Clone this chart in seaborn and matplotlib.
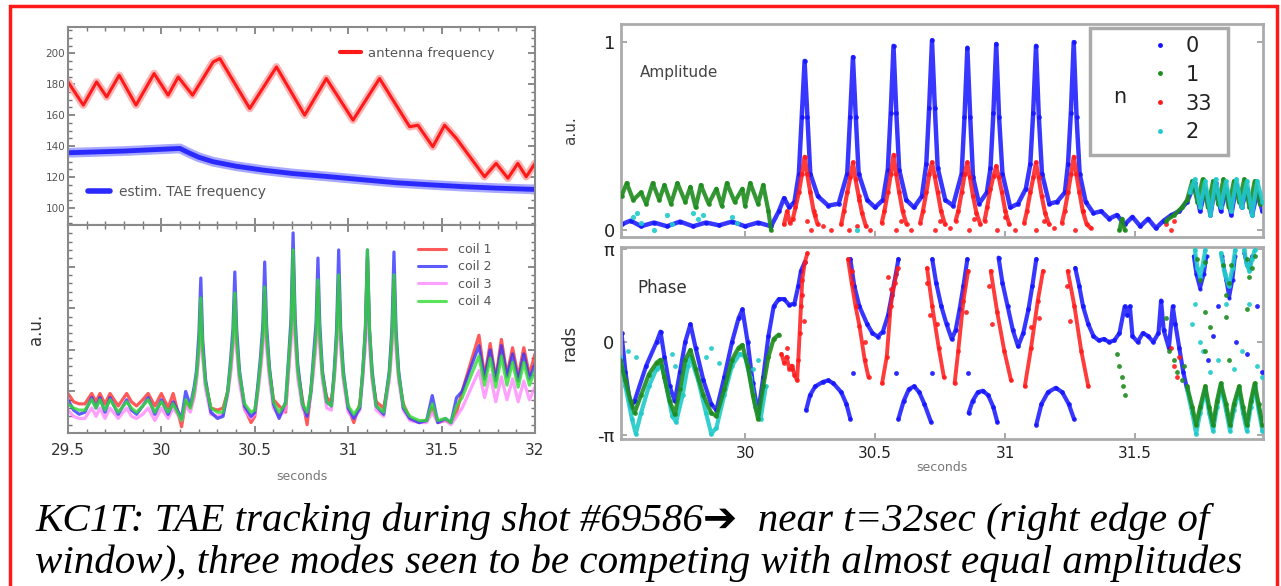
import numpy as np
import pandas as pd
import matplotlib
matplotlib.use("Agg")
import matplotlib.pyplot as plt
import seaborn as sns
from matplotlib.patches import Rectangle
from matplotlib.lines import Line2D
from matplotlib.ticker import MultipleLocator

nan = float("nan")

# ---------------- data: top-left (frequencies) ----------------
ant_t = [29.50, 29.582, 29.653, 29.707, 29.774, 29.864, 29.961, 30.036, 30.09, 30.167, 30.277, 30.313,
         30.473, 30.616, 30.767, 30.883, 31.026, 31.168, 31.329, 31.373, 31.453, 31.516, 31.579, 31.73,
         31.792, 31.855, 31.908, 31.953, 32.0]
ant_f = [181.5, 166.5, 181.5, 171.8, 185.8, 166.5, 186.9, 172.9, 184.7, 172.9, 194.4, 196.6,
         164.3, 191.2, 160.0, 183.7, 156.8, 183.7, 152.5, 153.5, 139.6, 153.5, 145.0, 120.2,
         128.8, 119.2, 128.8, 120.2, 128.8]
tae_t = [29.50, 29.80, 30.099, 30.15, 30.20, 30.277, 30.40, 30.544, 30.70, 30.901, 31.10, 31.258,
         31.45, 31.614, 31.80, 32.0]
tae_f = [135.7, 136.8, 138.5, 135.5, 132.8, 129.9, 127.0, 124.5, 122.3, 120.2, 118.0, 116.3,
         114.9, 113.8, 112.8, 112.0]

# ---------------- data: bottom-left (coil signals) ----------------
coil_t = [29.50, 29.53, 29.56, 29.59, 29.627, 29.65, 29.671, 29.698, 29.725, 29.769,
          29.814, 29.84, 29.867, 29.90, 29.929, 29.965, 30.00, 30.036, 30.063, 30.108,
          30.13, 30.155, 30.175, 30.188, 30.201, 30.211, 30.221, 30.236, 30.265, 30.30,
          30.33, 30.355, 30.37, 30.383, 30.393, 30.403, 30.418, 30.445, 30.48, 30.50,
          30.515, 30.53, 30.543, 30.553, 30.563, 30.578, 30.60, 30.63, 30.665, 30.68,
          30.694, 30.705, 30.716, 30.73, 30.755, 30.78, 30.80, 30.815, 30.828, 30.838,
          30.848, 30.862, 30.885, 30.91, 30.925, 30.938, 30.949, 30.96, 30.974, 31.00,
          31.03, 31.062, 31.078, 31.092, 31.103, 31.114, 31.128, 31.15, 31.19, 31.22,
          31.234, 31.245, 31.256, 31.27, 31.295, 31.33, 31.38, 31.42, 31.45, 31.48,
          31.52, 31.55, 31.58, 31.61, 31.65, 31.70, 31.73, 31.76, 31.79, 31.82,
          31.85, 31.88, 31.91, 31.94, 31.97, 32.00]
coil1 = [0.19, 0.15, 0.14, 0.14, 0.19, 0.15, 0.19, 0.14, 0.19, 0.13,
         0.19, 0.15, 0.13, 0.16, 0.19, 0.13, 0.19, 0.12, 0.19, 0.03,
         0.15, 0.12, 0.18, 0.27, 0.40, 0.62, 0.40, 0.24, 0.12, 0.11,
         0.12, 0.20, 0.30, 0.43, 0.64, 0.43, 0.27, 0.12, 0.05, 0.08,
         0.20, 0.32, 0.45, 0.68, 0.45, 0.30, 0.16, 0.13, 0.10, 0.30,
         0.48, 0.84, 0.48, 0.30, 0.16, 0.04, 0.20, 0.33, 0.46, 0.70,
         0.45, 0.28, 0.17, 0.15, 0.27, 0.45, 0.73, 0.45, 0.27, 0.12,
         0.05, 0.14, 0.28, 0.48, 0.84, 0.48, 0.27, 0.15, 0.12, 0.27,
         0.45, 0.73, 0.45, 0.27, 0.14, 0.07, 0.05, 0.06, 0.12, 0.05,
         0.06, 0.05, 0.10, 0.20, 0.32, 0.47, 0.27, 0.43, 0.26, 0.45,
         0.28, 0.41, 0.27, 0.41, 0.28, 0.38]
coil2 = [0.16, 0.11, 0.09, 0.10, 0.17, 0.12, 0.17, 0.10, 0.17, 0.09,
         0.16, 0.11, 0.09, 0.13, 0.17, 0.09, 0.16, 0.09, 0.15, 0.07,
         0.20, 0.13, 0.22, 0.30, 0.48, 0.745, 0.45, 0.26, 0.10, 0.07,
         0.08, 0.20, 0.35, 0.50, 0.774, 0.50, 0.30, 0.13, 0.08, 0.10,
         0.22, 0.36, 0.52, 0.822, 0.52, 0.32, 0.14, 0.07, 0.15, 0.35,
         0.55, 0.962, 0.55, 0.33, 0.14, 0.08, 0.20, 0.38, 0.53, 0.841,
         0.52, 0.30, 0.15, 0.13, 0.30, 0.50, 0.88, 0.50, 0.30, 0.12,
         0.07, 0.12, 0.30, 0.50, 0.88, 0.50, 0.30, 0.13, 0.09, 0.30,
         0.50, 0.87, 0.50, 0.30, 0.12, 0.07, 0.05, 0.06, 0.18, 0.05,
         0.07, 0.05, 0.17, 0.20, 0.30, 0.42, 0.26, 0.40, 0.25, 0.42,
         0.27, 0.38, 0.25, 0.38, 0.26, 0.33]
coil3 = [0.11, 0.08, 0.07, 0.07, 0.12, 0.08, 0.12, 0.07, 0.12, 0.07,
         0.12, 0.08, 0.07, 0.09, 0.12, 0.06, 0.12, 0.07, 0.12, 0.06,
         0.13, 0.10, 0.17, 0.25, 0.37, 0.55, 0.36, 0.21, 0.09, 0.08,
         0.09, 0.18, 0.28, 0.40, 0.58, 0.40, 0.24, 0.11, 0.07, 0.09,
         0.18, 0.29, 0.41, 0.60, 0.41, 0.26, 0.12, 0.08, 0.11, 0.28,
         0.43, 0.75, 0.43, 0.26, 0.12, 0.08, 0.18, 0.30, 0.42, 0.62,
         0.41, 0.25, 0.12, 0.11, 0.25, 0.40, 0.65, 0.40, 0.25, 0.10,
         0.07, 0.11, 0.26, 0.42, 0.72, 0.42, 0.25, 0.11, 0.08, 0.25,
         0.40, 0.66, 0.40, 0.25, 0.11, 0.06, 0.05, 0.05, 0.10, 0.05,
         0.06, 0.04, 0.08, 0.12, 0.20, 0.30, 0.17, 0.28, 0.15, 0.27,
         0.16, 0.26, 0.15, 0.25, 0.16, 0.22]
coil4 = [0.14, 0.12, 0.11, 0.11, 0.16, 0.12, 0.16, 0.11, 0.16, 0.10,
         0.15, 0.12, 0.10, 0.13, 0.16, 0.10, 0.15, 0.10, 0.14, 0.06,
         0.16, 0.12, 0.20, 0.28, 0.42, 0.649, 0.40, 0.24, 0.12, 0.10,
         0.10, 0.20, 0.32, 0.45, 0.673, 0.45, 0.28, 0.14, 0.10, 0.11,
         0.20, 0.33, 0.47, 0.702, 0.47, 0.30, 0.15, 0.10, 0.14, 0.33,
         0.50, 0.88, 0.50, 0.30, 0.14, 0.10, 0.20, 0.35, 0.48, 0.736,
         0.47, 0.28, 0.15, 0.13, 0.28, 0.46, 0.76, 0.46, 0.28, 0.13,
         0.09, 0.13, 0.30, 0.50, 0.88, 0.50, 0.28, 0.13, 0.10, 0.28,
         0.46, 0.76, 0.46, 0.28, 0.13, 0.08, 0.06, 0.06, 0.14, 0.06,
         0.07, 0.05, 0.13, 0.17, 0.26, 0.37, 0.23, 0.36, 0.22, 0.37,
         0.23, 0.34, 0.22, 0.34, 0.23, 0.30]
coil_labels = ["coil 1", "coil 2", "coil 3", "coil 4"]

# ---------------- data: right, amplitude ----------------
amp0_t = [29.525, 29.56, 29.60, 29.65, 29.70, 29.75, 29.80, 29.85, 29.90, 29.95, 30.00, 30.05, 30.10,
          30.13, 30.15, 30.17, 30.19,
          30.207, 30.218, 30.229, 30.24, 30.251,
          30.28, 30.32, 30.36,
          30.393, 30.404, 30.415, 30.426, 30.437,
          30.47, 30.50, 30.53,
          30.549, 30.56, 30.571, 30.582, 30.593,
          30.62, 30.65, 30.68,
          30.697, 30.708, 30.719, 30.73, 30.741,
          30.77, 30.80,
          30.833, 30.844, 30.855, 30.866, 30.877,
          30.90, 30.93,
          30.944, 30.955, 30.966, 30.977, 30.99,
          31.02, 31.05, 31.08,
          31.097, 31.108, 31.119, 31.13, 31.142,
          31.17, 31.20, 31.23,
          31.242, 31.253, 31.264, 31.275, 31.287,
          31.31, 31.34, 31.37, 31.40, 31.43, 31.46, 31.49, 31.52, 31.55, 31.58, 31.61, 31.64, 31.67, 31.70,
          31.73, 31.75, 31.77, 31.79, 31.81, 31.83, 31.85, 31.87, 31.89, 31.91, 31.93, 31.95, 31.97, 31.99]
amp0_v = [0.03, 0.05, 0.02, 0.04, 0.02, 0.045, 0.02, 0.04, 0.025, 0.045, 0.02, 0.04, 0.02,
          0.10, 0.17, 0.12, 0.15,
          0.30, 0.60, 0.90, 0.60, 0.30,
          0.18, 0.13, 0.14,
          0.30, 0.60, 0.92, 0.60, 0.30,
          0.16, 0.12, 0.16,
          0.32, 0.62, 0.98, 0.62, 0.32,
          0.16, 0.12, 0.18,
          0.35, 0.65, 1.01, 0.65, 0.33,
          0.16, 0.13,
          0.30, 0.60, 0.97, 0.60, 0.28,
          0.14, 0.20,
          0.33, 0.62, 0.99, 0.60, 0.30,
          0.12, 0.14, 0.22,
          0.35, 0.62, 0.98, 0.60, 0.30,
          0.14, 0.15, 0.20,
          0.35, 0.62, 1.00, 0.60, 0.30,
          0.15, 0.09, 0.10, 0.06, 0.08, 0.03, 0.07, 0.02, 0.06, 0.01, 0.05, 0.08, 0.10, 0.15,
          0.25, 0.10, 0.22, 0.08, 0.25, 0.10, 0.22, 0.08, 0.24, 0.12, 0.22, 0.08, 0.20, 0.10]
amp1_t = [29.525, 29.545, 29.57, 29.60, 29.62, 29.645, 29.67, 29.69, 29.715, 29.74, 29.77, 29.79,
          29.81, 29.83, 29.86, 29.89, 29.91, 29.93, 29.96, 29.99, 30.00, 30.02, 30.05, 30.07, 30.09,
          30.10, nan, 31.44, 31.45, 31.46, nan, 31.62, 31.65, 31.68, 31.70, 31.72, 31.74, 31.76,
          31.78, 31.80, 31.82, 31.84, 31.86, 31.88, 31.90, 31.92, 31.94, 31.96, 31.98]
amp1_v = [0.18, 0.25, 0.16, 0.20, 0.14, 0.25, 0.16, 0.24, 0.14, 0.25, 0.15, 0.23,
          0.12, 0.24, 0.14, 0.22, 0.13, 0.25, 0.15, 0.22, 0.13, 0.25, 0.14, 0.24, 0.10,
          0.00, nan, 0.00, 0.06, 0.00, nan, 0.05, 0.08, 0.12, 0.16, 0.26, 0.15, 0.27,
          0.12, 0.26, 0.14, 0.27, 0.12, 0.26, 0.15, 0.27, 0.12, 0.26, 0.14]
amp33_t = [30.15, 30.162, 30.172, 30.184, 30.194, 30.207, 30.219, 30.229, 30.239, 30.251, 30.264, 30.279,
           nan, 30.37, 30.38, 30.393, 30.405, 30.415, 30.425, 30.437, 30.45, 30.465,
           nan, 30.526, 30.536, 30.549, 30.561, 30.571, 30.581, 30.593, 30.606, 30.621,
           nan, 30.674, 30.684, 30.697, 30.709, 30.719, 30.729, 30.741, 30.754, 30.769,
           nan, 30.81, 30.82, 30.833, 30.845, 30.855, 30.865, 30.877, 30.89, 30.905,
           nan, 30.921, 30.931, 30.944, 30.956, 30.966, 30.976, 30.988, 31.001, 31.016,
           nan, 31.074, 31.084, 31.097, 31.109, 31.119, 31.129, 31.141, 31.154, 31.169,
           nan, 31.219, 31.229, 31.242, 31.254, 31.264, 31.274, 31.286, 31.299, 31.314, 31.33]
amp33_v = [0.03, 0.10, 0.04, 0.06, 0.12, 0.20, 0.30, 0.39, 0.30, 0.20, 0.10, 0.03,
           nan, 0.03, 0.10, 0.20, 0.28, 0.36, 0.27, 0.18, 0.09, 0.02,
           nan, 0.04, 0.10, 0.20, 0.30, 0.40, 0.30, 0.20, 0.10, 0.03,
           nan, 0.04, 0.10, 0.20, 0.30, 0.36, 0.29, 0.20, 0.10, 0.03,
           nan, 0.05, 0.10, 0.20, 0.30, 0.36, 0.28, 0.18, 0.09, 0.03,
           nan, 0.05, 0.12, 0.22, 0.29, 0.34, 0.28, 0.20, 0.10, 0.03,
           nan, 0.04, 0.10, 0.20, 0.28, 0.36, 0.28, 0.18, 0.09, 0.03,
           nan, 0.04, 0.10, 0.20, 0.30, 0.39, 0.30, 0.20, 0.10, 0.03, 0.01]
amp33_pts_t = [30.24, 30.255, 30.27, 30.30, 30.33, 30.40, 30.43, 30.44, 30.48, 30.58, 30.60, 30.64,
               30.73, 30.75, 30.79, 30.86, 30.88, 30.97, 31.00, 31.04, 31.12, 31.15, 31.19, 31.27,
               31.30, 31.62, 31.64, 31.65]
amp33_pts_v = [0.05, 0.00, 0.08, 0.02, 0.00, 0.00, 0.02, 0.16, 0.00, 0.00, 0.05, 0.00,
               0.00, 0.05, 0.01, 0.00, 0.06, 0.00, 0.07, 0.00, 0.00, 0.05, 0.01, 0.00,
               0.10, 0.03, 0.00, 0.05]
amp2_t = [31.71, 31.73, 31.75, 31.77, 31.79, 31.81, 31.83, 31.85, 31.87, 31.89, 31.91, 31.93, 31.95, 31.97, 31.99]
amp2_v = [0.20, 0.27, 0.12, 0.26, 0.08, 0.27, 0.12, 0.26, 0.10, 0.27, 0.12, 0.26, 0.08, 0.26, 0.15]
amp2_pts_t = [29.57, 29.585, 29.60, 29.65, 29.70, 29.72, 29.80, 29.82, 29.84, 29.95, 29.97, 30.43]
amp2_pts_v = [0.07, 0.09, 0.04, 0.00, 0.08, 0.03, 0.09, 0.06, 0.08, 0.07, 0.04, 0.00]

# ---------------- data: right, phase (rad) ----------------
ph0_t = [29.525, 29.54, 29.56, 29.575, 29.62, 29.66, 29.675, 29.69, 29.71, 29.73, 29.75, 29.77, 29.79,
         29.81, 29.84, 29.87, 29.89, 29.92, 29.95, 29.975, 29.99, 30.01, 30.03, 30.05, 30.07, 30.09,
         30.11, 30.13, 30.15, 30.17, 30.19, 30.205, 30.215, 30.23,
         nan, 30.235, 30.25, 30.27, 30.30, 30.32, 30.34, 30.37, 30.39, 30.405,
         nan, 30.405, 30.42, 30.44, 30.47, 30.49, 30.51, 30.53, 30.55, 30.565, 30.58, 30.59,
         nan, 30.59, 30.61, 30.63, 30.65, 30.67, 30.69, 30.715,
         nan, 30.72, 30.735, 30.755, 30.775, 30.795, 30.81, 30.825, 30.84, 30.855,
         nan, 30.86, 30.875, 30.895, 30.914, 30.935, 30.955, 30.97,
         nan, 30.975, 30.99, 31.01, 31.03, 31.05, 31.07, 31.09, 31.105, 31.12,
         nan, 31.12, 31.14, 31.165, 31.195, 31.22, 31.245, 31.265,
         nan, 31.27, 31.285, 31.30, 31.32, 31.34, 31.36, 31.38, 31.40, 31.42, 31.44, 31.46, 31.47,
         31.48, 31.49, 31.51, 31.53, 31.55, 31.57, 31.59, 31.60, 31.61, 31.63, 31.645, 31.655, 31.67,
         31.685, 31.70]
ph0_v = [0.3, -1.0, -2.2, -2.0, -0.8, 0.0, 0.35, -0.5, -1.5, -2.0, -1.0, 0.0, 0.6,
         -0.2, -1.3, -2.1, -2.3, -1.2, 0.0, 0.8, 1.1, 0.0, -1.4, -2.4, -1.2, 0.2,
         1.2, 1.45, 1.45, 1.25, 1.3, 1.9, 2.4, 2.7,
         nan, -2.3, -1.8, -1.5, -1.35, -1.3, -1.4, -1.7, -2.1, -2.6,
         nan, 2.8, 1.9, 1.2, 0.6, 0.3, 0.18, 0.35, 0.9, 1.6, 2.3, 2.8,
         nan, -2.6, -2.0, -1.6, -1.5, -1.7, -2.1, -2.7,
         nan, 2.8, 2.0, 1.2, 0.6, 0.1, 0.4, 1.1, 1.9, 2.8,
         nan, -2.4, -2.0, -1.7, -1.65, -1.8, -2.2, -2.7,
         nan, 2.85, 2.0, 1.2, 0.4, -0.15, 0.3, 1.1, 1.9, 2.8,
         nan, -2.8, -2.1, -1.7, -1.55, -1.7, -2.1, -2.6,
         nan, 2.5, 1.9, 1.2, 0.6, 0.2, 0.05, 0.1, 0.0, 0.05, 0.3, 1.2, 0.9,
         1.2, 0.2, 0.0, 0.3, 0.2, 0.0, 0.3, 1.4, 0.4, -0.2, 1.2, 0.6, -0.2,
         -1.0, -1.6]
ph0_late_t = [31.725, 31.735, 31.75, 31.765, 31.775, nan, 31.835, 31.85, 31.862, 31.875, 31.885,
              nan, 31.92, 31.93, 31.94, 31.95]
ph0_late_v = [2.9, 2.3, 1.8, 2.3, 2.9, nan, 2.9, 2.1, 1.5, 2.1, 2.9, nan, 3.0, 2.6, 2.5, 2.9]
ph0_pts_t = [30.415, 30.58, 30.72, 30.858, 31.78, 31.82, 31.89, 31.93, 31.97, 31.99, 31.80]
ph0_pts_v = [-1.05, -1.05, -1.05, -1.05, -0.6, 1.2, 0.0, -0.4, 1.2, -1.0, 0.2]
ph33_t = [30.14, 30.15, 30.16, 30.17, 30.18, 30.19, 30.20, 30.205, 30.21, 30.215, 30.22, 30.23, 30.24,
          nan, 30.396, 30.41, 30.425, 30.44, 30.46, 30.475,
          nan, 30.527, 30.545, 30.56, 30.575, 30.587,
          nan, 30.70, 30.72, 30.745, 30.765,
          nan, 30.806, 30.82, 30.84, 30.858,
          nan, 30.945, 30.97, 30.997, 31.023,
          nan, 31.076, 31.10, 31.126, 31.146,
          nan, 31.241, 31.267, 31.293, 31.32]
ph33_v = [-0.4, -0.7, -0.5, -0.9, -0.8, -1.1, -1.3, -0.6, 0.3, 1.2, 2.1, 2.7, 3.0,
          nan, 2.8, 2.0, 1.2, 0.55, -0.6, -1.2,
          nan, -1.4, -0.5, 1.2, 2.0, 2.5,
          nan, 2.5, 1.2, -0.2, -1.2,
          nan, -1.4, -0.3, 1.4, 2.4,
          nan, 2.4, 1.0, -0.3, -1.3,
          nan, -1.5, -0.2, 1.4, 2.4,
          nan, 2.4, 1.2, -0.3, -1.5]
ph33_pts_t = [30.16, 30.18, 30.22, 30.225, 30.41, 30.46, 30.55, 30.56, 30.70, 30.71, 30.74,
              30.85, 30.94, 30.95, 31.10, 31.13, 31.24, 31.25, 31.64, 31.65, 31.66, 31.67]
ph33_pts_v = [-0.2, -0.9, 1.6, 0.7, 2.4, 0.0, 2.2, 1.8, 2.0, 0.9, 0.6,
              1.0, 1.9, 0.6, 0.5, 0.8, 1.9, 0.7, -0.2, -0.8, -1.2, -0.5]
ph1_t = [29.52, 29.54, 29.56, 29.575, 29.60, 29.63, 29.66, 29.675, 29.69, 29.71, 29.73, 29.75, 29.77,
         29.79, 29.81, 29.84, 29.87, 29.89, 29.92, 29.95, 29.975, 29.99, 30.01, 30.03, 30.05, 30.07,
         30.09, 30.11, 30.13,
         nan, 31.70, 31.72, 31.735, 31.75, 31.77, 31.785, 31.80, 31.815, 31.83, 31.85, 31.865, 31.88,
         31.90, 31.915, 31.93, 31.945, 31.96, 31.975, 31.99]
ph1_v = [-0.6, -1.3, -2.0, -2.4, -1.8, -1.1, -0.7, -0.6, -1.2, -2.0, -2.45, -1.6, -0.6,
         -0.27, -0.9, -1.8, -2.4, -2.5, -1.6, -0.6, -0.2, -0.1, -0.8, -1.8, -2.6, -1.5,
         -0.5, 0.1, 0.25,
         nan, -1.5, -2.2, -2.8, -2.2, -1.5, -2.2, -2.8, -2.0, -1.4, -2.1, -2.8, -2.1,
         -1.5, -2.2, -2.8, -2.0, -1.4, -2.1, -2.8]
ph1_pts_t = [31.43, 31.44, 31.45, 31.455, 31.46, 31.62, 31.63, 31.65, 31.66, 31.68, 31.69, 31.74, 31.75,
             31.77, 31.79, 31.84, 31.85, 31.86, 31.87, 31.93, 31.94, 31.95, 31.96, 31.77, 31.85, 31.93,
             31.77, 31.86]
ph1_pts_v = [-0.4, -0.8, -1.2, -1.5, -1.8, 0.8, -0.3, -0.6, -1.0, -1.3, -0.8, 2.8, 2.1,
             2.7, 0.5, 2.6, 1.6, 2.0, 2.6, 2.8, 2.2, 2.5, 2.9, -0.3, 0.85, 1.1,
             1.0, -0.6]
ph2_t = [29.52, 29.54, 29.565, 29.58, 29.60, 29.63, 29.66, 29.68, 29.70, 29.72, 29.735, 29.76, 29.78,
         29.79, 29.82, 29.85, 29.87, 29.89, 29.92, 29.95, 29.98, 30.00, 30.02, 30.04, 30.06, 30.08,
         nan, 31.70, 31.72, 31.735, 31.75, 31.77, 31.785, 31.80, 31.815, 31.83, 31.85, 31.865, 31.88,
         31.90, 31.915, 31.93, 31.945, 31.96, 31.975, 31.99,
         nan, 31.73, 31.74, 31.75, 31.76, 31.77,
         nan, 31.83, 31.845, 31.86, 31.875, 31.885,
         nan, 31.92, 31.93, 31.94, 31.95, 31.96]
ph2_v = [-0.5, -1.5, -2.6, -3.1, -2.4, -1.5, -0.9, -0.8, -1.6, -2.5, -2.7, -1.8, -0.8,
         -0.5, -1.3, -2.4, -3.1, -2.9, -1.8, -0.8, -0.4, -0.5, -1.2, -2.2, -2.6, -1.5,
         nan, -1.6, -2.4, -3.1, -2.4, -1.6, -2.4, -3.0, -2.2, -1.5, -2.3, -3.0, -2.3,
         -1.6, -2.4, -3.0, -2.2, -1.5, -2.3, -3.0,
         nan, 3.1, 2.5, 2.2, 2.6, 3.1,
         nan, 3.0, 2.3, 1.9, 2.5, 3.1,
         nan, 3.1, 2.6, 2.4, 2.8, 3.1]
ph2_pts_t = [29.55, 29.58, 29.72, 29.73, 29.85, 29.87, 29.90, 30.05, 30.03, 31.72,
             31.73, 31.76, 31.79, 31.82, 31.85, 31.88, 31.94, 31.97, 31.99, 31.75, 31.91]
ph2_pts_v = [-0.3, -0.5, -0.4, -0.8, -0.5, -0.2, -0.7, -0.6, -0.9, 0.6,
             1.3, -0.3, -1.0, -0.6, 1.3, -0.9, 1.3, -0.8, -1.2, 0.0, -0.3]
mode_labels = ["0", "1", "33", "2"]

caption1 = "KC1T: TAE tracking during shot #69586\u2794  near t=32sec (right edge of"
caption2 = "window), three modes seen to be competing with almost equal amplitudes"

# ---------------- styling ----------------
sns.set_theme(style="white")
plt.rcParams["font.family"] = ["DejaVu Sans"]

W, H = 1281, 586
fig = plt.figure(figsize=(W / 100, H / 100), dpi=100)
fig.patch.set_facecolor("white")

C_BLUE, C_RED, C_GREEN, C_CYAN = "#1414ff", "#ff1a1a", "#1e8c1e", "#20caca"


def px_axes(x0, y0, x1, y1):
    return fig.add_axes([x0 / W, 1 - y1 / H, (x1 - x0) / W, (y1 - y0) / H])


def seg_frame(t, v):
    t = np.asarray(t, float)
    v = np.asarray(v, float)
    brk = np.isnan(t) | np.isnan(v)
    seg = np.cumsum(brk)
    df = pd.DataFrame({"t": t, "v": v, "seg": seg})
    return df[~brk]


def draw_line(ax, t, v, color, lw, alpha=1.0, marker=None, ms=0, z=2):
    df = seg_frame(t, v)
    kw = dict(marker=marker, markersize=ms, markeredgewidth=0) if marker else {}
    sns.lineplot(data=df, x="t", y="v", units="seg", estimator=None, sort=False,
                 color=color, lw=lw, alpha=alpha, ax=ax, legend=False, zorder=z, **kw)


def draw_pts(ax, t, v, color, s=14, alpha=0.9):
    sns.scatterplot(x=t, y=v, color=color, s=s, linewidth=0, alpha=alpha, ax=ax,
                    legend=False, zorder=3)


def style_spines(ax, color, lw):
    for sp in ax.spines.values():
        sp.set_visible(True)
        sp.set_color(color)
        sp.set_linewidth(lw)


# ---------------- top-left: frequencies ----------------
ax1 = px_axes(68, 27, 535, 225)
draw_line(ax1, ant_t, ant_f, "#ffb3b3", 5.5)
draw_line(ax1, ant_t, ant_f, C_RED, 2.2)
draw_line(ax1, tae_t, tae_f, "#a8a8ff", 7)
draw_line(ax1, tae_t, tae_f, "#2a2aff", 3.5)
ax1.set_xlim(29.5, 32)
ax1.set_ylim(89, 217)
ax1.set_xlabel("")
ax1.set_ylabel("")
ax1.set_yticks([100, 120, 140, 160, 180, 200])
ax1.yaxis.set_minor_locator(MultipleLocator(5))
ax1.xaxis.set_major_locator(MultipleLocator(0.5))
ax1.xaxis.set_minor_locator(MultipleLocator(0.1))
ax1.tick_params(which="both", direction="in", top=True, right=True, bottom=True, left=True,
                color="#777777", labelbottom=False, labelsize=7.5, labelcolor="#555555", pad=2)
ax1.tick_params(which="major", length=5, width=1.2)
ax1.tick_params(which="minor", length=3, width=1)
style_spines(ax1, "#8a8a8a", 1.5)
leg1 = ax1.legend([Line2D([], [], color=C_RED, lw=3)], ["antenna frequency"],
                  loc="center left", bbox_to_anchor=((340 - 68) / 467, (225 - 53) / 198),
                  frameon=False, fontsize=9.5, handlelength=1.6, handletextpad=0.5,
                  borderpad=0, borderaxespad=0, labelcolor="#555555")
ax1.add_artist(leg1)
ax1.legend([Line2D([], [], color="#2a2aff", lw=4)], ["estim. TAE frequency"],
           loc="center left", bbox_to_anchor=((88 - 68) / 467, (225 - 192) / 198),
           frameon=False, fontsize=10, handlelength=1.6, handletextpad=0.6,
           borderpad=0, borderaxespad=0, labelcolor="#555555")

# ---------------- bottom-left: coils ----------------
ax2 = px_axes(68, 225, 535, 433)
coil_colors = ["#ff3030", "#3535ff", "#ff88ff", "#30dd30"]
order = [0, 2, 1, 3]
coil_vals = [coil1, coil2, coil3, coil4]
for i in order:
    draw_line(ax2, coil_t, coil_vals[i], coil_colors[i], 2.3, alpha=0.8)
ax2.set_xlim(29.5, 32)
ax2.set_ylim(0, 1)
ax2.set_xticks([29.5, 30, 30.5, 31, 31.5, 32])
ax2.set_xticklabels(["29.5", "30", "30.5", "31", "31.5", "32"])
ax2.xaxis.set_minor_locator(MultipleLocator(0.1))
ax2.yaxis.set_major_locator(MultipleLocator(0.2))
ax2.yaxis.set_minor_locator(MultipleLocator(0.04))
ax2.tick_params(which="both", direction="in", top=True, right=True, bottom=True, left=True,
                color="#777777", labelleft=False, labelsize=11, labelcolor="#333333", pad=7)
ax2.tick_params(which="major", length=5, width=1.2)
ax2.tick_params(which="minor", length=3, width=1)
style_spines(ax2, "#8a8a8a", 1.5)
ax2.set_ylabel("a.u.", fontsize=12, color="#333333")
ax2.yaxis.set_label_coords((45 - 68) / 467, 0.5)
ax2.set_xlabel("seconds", fontsize=9, color="#777777")
ax2.xaxis.set_label_coords(0.5, (433 - 470) / 208)
coil_handles = [Line2D([], [], color=coil_colors[i], lw=2.2, alpha=0.8) for i in range(4)]
ax2.legend(coil_handles, coil_labels, loc="upper left",
           bbox_to_anchor=((418 - 68) / 467, (433 - 243) / 208), frameon=False, fontsize=9,
           handlelength=2.2, handletextpad=1.0, labelspacing=0.35, borderpad=0,
           borderaxespad=0, labelcolor="#555555")

# ---------------- right-top: amplitude ----------------
ax3 = px_axes(621, 24, 1263, 237)
draw_line(ax3, amp0_t, amp0_v, C_BLUE, 3.2, alpha=0.85, marker="o", ms=3.4, z=2)
draw_line(ax3, amp33_t, amp33_v, C_RED, 3.0, alpha=0.85, marker="o", ms=3.4, z=3)
draw_pts(ax3, amp33_pts_t, amp33_pts_v, C_RED, s=12)
draw_line(ax3, amp1_t, amp1_v, C_GREEN, 3.0, alpha=0.9, marker="o", ms=3.4, z=3)
draw_line(ax3, amp2_t, amp2_v, C_CYAN, 3.0, alpha=0.9, marker="o", ms=3.4, z=4)
draw_pts(ax3, amp2_pts_t, amp2_pts_v, C_CYAN, s=14)
ax3.set_xlim(29.523, 31.992)
ax3.set_ylim(-0.037, 1.096)
ax3.set_xlabel("")
ax3.set_ylabel("a.u.", fontsize=11, color="#444444")
ax3.yaxis.set_label_coords((578 - 621) / 642, 0.5)
ax3.set_yticks([0, 1])
ax3.set_yticklabels(["0", "1"])
ax3.set_xticks([30, 30.5, 31, 31.5])
ax3.tick_params(direction="in", length=4, width=1.2, color="#999999", right=True, bottom=True,
                left=True, labelbottom=False, labelsize=13, labelcolor="#222222", pad=4)
style_spines(ax3, "#ababab", 2)
ax3.text((640 - 621) / 642, (237 - 72) / 213, "Amplitude", transform=ax3.transAxes,
         fontsize=11, color="#444444", va="center", ha="left")
ax3.add_patch(Rectangle(((1090 - 621) / 642, (237 - 155) / 213), (1228 - 1090) / 642,
                        (155 - 28) / 213, transform=ax3.transAxes, facecolor="white",
                        edgecolor="#aaaaaa", lw=2.5, zorder=5))
mode_colors = [C_BLUE, C_GREEN, C_RED, C_CYAN]
mode_handles = [Line2D([], [], ls="none", marker="o", markersize=3.5, markeredgewidth=0,
                       color=c) for c in mode_colors]
leg3 = ax3.legend(mode_handles, mode_labels, loc="upper left",
                  bbox_to_anchor=((1150 - 621) / 642, (237 - 36) / 213), frameon=False,
                  fontsize=15, handlelength=1.0, handletextpad=0.7, labelspacing=0.42,
                  borderpad=0, borderaxespad=0, labelcolor="#222222")
leg3.set_zorder(6)
ax3.text((1120 - 621) / 642, (237 - 97) / 213, "n", transform=ax3.transAxes, fontsize=15,
         color="#222222", ha="center", va="center", zorder=7)

# ---------------- right-bottom: phase ----------------
ax4 = px_axes(621, 247, 1263, 439)
draw_line(ax4, ph0_t, ph0_v, C_BLUE, 3.0, alpha=0.85, marker="o", ms=3.4, z=2)
draw_line(ax4, ph0_late_t, ph0_late_v, C_BLUE, 2.6, alpha=0.85, marker="o", ms=3.0, z=2)
draw_pts(ax4, ph0_pts_t, ph0_pts_v, C_BLUE, s=12)
draw_line(ax4, ph33_t, ph33_v, C_RED, 2.8, alpha=0.85, marker="o", ms=3.4, z=3)
draw_pts(ax4, ph33_pts_t, ph33_pts_v, C_RED, s=12)
draw_line(ax4, ph2_t, ph2_v, C_CYAN, 3.0, alpha=0.9, marker="o", ms=3.4, z=3)
draw_pts(ax4, ph2_pts_t, ph2_pts_v, C_CYAN, s=12)
draw_line(ax4, ph1_t, ph1_v, C_GREEN, 3.0, alpha=0.9, marker="o", ms=3.4, z=4)
draw_pts(ax4, ph1_pts_t, ph1_pts_v, C_GREEN, s=12)
ax4.set_xlim(29.523, 31.992)
ax4.set_ylim(-3.28, 3.21)
ax4.set_yticks([-np.pi, 0, np.pi])
ax4.set_yticklabels(["-\u03c0", "0", "\u03c0"])
ax4.set_xticks([30, 30.5, 31, 31.5])
ax4.set_xticklabels(["30", "30.5", "31", "31.5"])
ax4.tick_params(axis="y", labelsize=13)
ax4.tick_params(axis="x", labelsize=11)
ax4.tick_params(direction="in", length=4, width=1.2, color="#999999", right=True, bottom=True,
                left=True, labelcolor="#222222", pad=5)
style_spines(ax4, "#ababab", 2)
ax4.set_ylabel("rads", fontsize=12, color="#333333")
ax4.yaxis.set_label_coords((578 - 621) / 642, 0.5)
ax4.set_xlabel("seconds", fontsize=9, color="#777777")
ax4.xaxis.set_label_coords(0.5, (439 - 461) / 192)
ax4.text((637 - 621) / 642, (439 - 288) / 192, "Phase", transform=ax4.transAxes,
         fontsize=12, color="#333333", va="center", ha="left")

# ---------------- caption + slide border ----------------
cap_font = dict(fontsize=29.5, style="italic", family=["Liberation Serif", "DejaVu Sans"],
                color="black", va="baseline", ha="left")
fig.text(35 / W, 1 - 531 / H, caption1, **cap_font)
fig.text(35 / W, 1 - 573 / H, caption2, **cap_font)
fig.add_artist(Rectangle((10 / W, -0.02), (1277 - 10) / W, 1.02 - 6 / H,
                         transform=fig.transFigure, fill=False, edgecolor="#ff1a1a", lw=2.5))

fig.savefig("out.png", dpi=100, facecolor="white")
